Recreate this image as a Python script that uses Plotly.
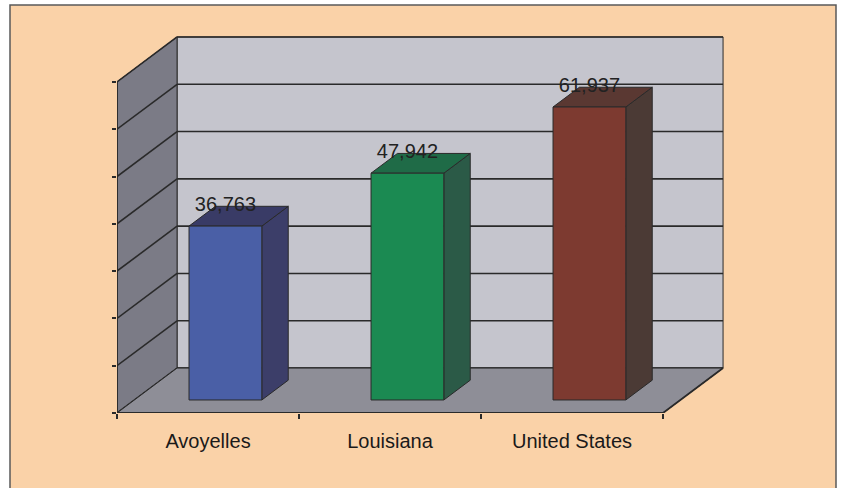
import plotly.graph_objects as go

# Median household income by area
categories = ["Avoyelles", "Louisiana", "United States"]
values = [36763, 47942, 61937]
value_labels = ["36,763", "47,942", "61,937"]
grid_values = [0, 10000, 20000, 30000, 40000, 50000, 60000, 70000]

front_colors = ["#4A5FA6", "#1B8A52", "#7D3A30"]
side_colors = ["#3C3E69", "#2B5A47", "#4B3A35"]
top_colors = ["#393B66", "#1F6B47", "#5A3832"]

FIG_W, FIG_H = 843, 488
PEACH = "#FAD2A8"
EDGE = "#2A2A2A"

# Oblique "3-D" projection: depth w in [0, 1] moves a point right by DX
# category units and up by DY value units.
DX = 0.33
DY = 9500
VMAX = max(grid_values)
N = len(categories)
BAR_HALF = 0.2
W_FRONT, W_BACK = 0.29, 0.73


def proj(u, w, v):
    return u + w * DX, v + w * DY


def poly(points):
    xs, ys = [], []
    for u, w, v in points:
        x, y = proj(u, w, v)
        xs.append(x)
        ys.append(y)
    xs.append(xs[0])
    ys.append(ys[0])
    return xs, ys


def face(points, fill, line_color=EDGE, width=1):
    xs, ys = poly(points)
    return go.Scatter(x=xs, y=ys, mode="lines", fill="toself", fillcolor=fill,
                      line=dict(color=line_color, width=width),
                      hoverinfo="skip", showlegend=False)


def segments(pairs, color=EDGE, width=1.6):
    xs, ys = [], []
    for a, b in pairs:
        x0, y0 = proj(*a)
        x1, y1 = proj(*b)
        xs += [x0, x1, None]
        ys += [y0, y1, None]
    return go.Scatter(x=xs, y=ys, mode="lines", line=dict(color=color, width=width),
                      hoverinfo="skip", showlegend=False)


fig = go.Figure()

# back wall + its gridlines
fig.add_trace(face([(0, 1, 0), (N, 1, 0), (N, 1, VMAX), (0, 1, VMAX)], "#C5C5CD"))
fig.add_trace(segments([((0, 1, g), (N, 1, g)) for g in grid_values]))

# left side wall + its gridlines
fig.add_trace(face([(0, 0, 0), (0, 1, 0), (0, 1, VMAX), (0, 0, VMAX)], "#7B7B86"))
fig.add_trace(segments([((0, 0, g), (0, 1, g)) for g in grid_values]))

# floor
fig.add_trace(face([(0, 0, 0), (N, 0, 0), (N, 1, 0), (0, 1, 0)], "#8E8E97"))
fig.add_trace(segments([((0, 0, 0), (N, 0, 0)), ((N, 0, 0), (N, 1, 0)),
                        ((0, 0, 0), (0, 0, VMAX))], width=1.8))

# bars
for i, v in enumerate(values):
    c = i + 0.5
    u0, u1 = c - BAR_HALF, c + BAR_HALF
    fig.add_trace(face([(u1, W_FRONT, 0), (u1, W_BACK, 0), (u1, W_BACK, v), (u1, W_FRONT, v)],
                       side_colors[i]))
    fig.add_trace(face([(u0, W_FRONT, v), (u1, W_FRONT, v), (u1, W_BACK, v), (u0, W_BACK, v)],
                       top_colors[i]))
    fig.add_trace(face([(u0, W_FRONT, 0), (u1, W_FRONT, 0), (u1, W_FRONT, v), (u0, W_FRONT, v)],
                       front_colors[i]))

# value labels sitting on the bar tops
lx = [i + 0.5 + W_FRONT * DX for i in range(N)]
ly = [v + W_BACK * DY for v in values]
fig.add_trace(go.Scatter(x=lx, y=ly, mode="text", text=value_labels,
                         textposition="middle center", cliponaxis=False,
                         textfont=dict(family="Arial, Liberation Sans", size=20, color="#222222"),
                         hoverinfo="skip", showlegend=False))

# plot area geometry (figure fractions)
x_left, x_right = 117, 783
y_bottom, y_top = 413, 10
px_per_cat = 182.0
px_per_val = 0.00473

fig.update_layout(
    width=FIG_W, height=FIG_H,
    margin=dict(l=0, r=0, t=0, b=0),
    paper_bgcolor="white",
    plot_bgcolor="rgba(0,0,0,0)",
    showlegend=False,
    xaxis=dict(
        domain=[x_left / FIG_W, x_right / FIG_W],
        range=[0, (x_right - x_left) / px_per_cat],
        tickmode="array", tickvals=[i + 0.5 for i in range(N)], ticktext=categories,
        ticks="outside", ticklen=10, tickcolor="rgba(0,0,0,0)",
        minor=dict(tickmode="array", tickvals=list(range(N + 1)), ticks="outside",
                   ticklen=5, tickwidth=1.6, tickcolor=EDGE, showgrid=False),
        tickfont=dict(family="Arial, Liberation Sans", size=20, color="#1A1A1A"),
        showgrid=False, zeroline=False, showline=False, automargin=False,
        fixedrange=True,
    ),
    yaxis=dict(
        domain=[1 - y_bottom / FIG_H, 1 - y_top / FIG_H],
        range=[0, (y_bottom - y_top) / px_per_val],
        tickmode="array", tickvals=grid_values, ticks="outside", ticklen=4,
        tickwidth=1.6, tickcolor=EDGE, showticklabels=False,
        showgrid=False, zeroline=False, showline=False, automargin=False,
        fixedrange=True,
    ),
    shapes=[dict(type="rect", xref="paper", yref="paper", layer="below",
                 x0=10 / FIG_W, x1=836 / FIG_W, y0=-0.02, y1=1 - 5 / FIG_H,
                 fillcolor=PEACH, line=dict(color="#5A5A5A", width=1.5))],
)

fig.write_html("out.html")
